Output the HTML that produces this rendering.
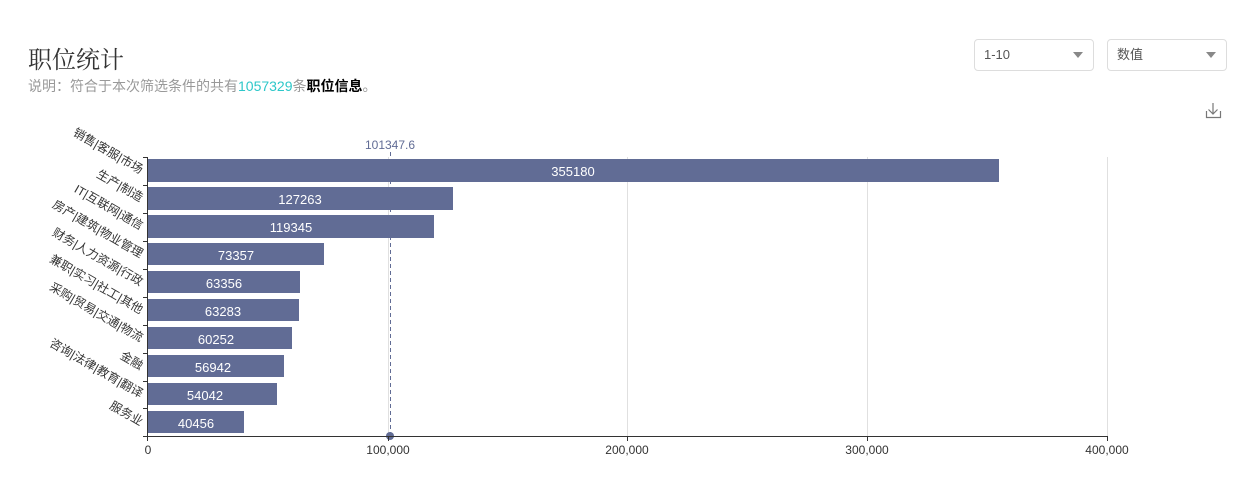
<!DOCTYPE html><html><head><meta charset="utf-8"><style>
body{margin:0;width:1253px;height:502px;background:#fff;font-family:"Liberation Sans","Noto Sans CJK SC",sans-serif;position:relative;overflow:hidden}
.t{position:absolute;left:28px;top:40px;font-size:24px;color:#333;font-family:"Liberation Serif","Noto Serif CJK SC",serif}
.s{position:absolute;left:28px;top:76px;font-size:14px;color:#999}
.sel{position:absolute;top:39px;width:120px;height:32px;border:1px solid #ddd;border-radius:4px;font-size:13px;color:#555;line-height:30px;box-sizing:border-box;padding-left:9px}
.sel:after{content:"";position:absolute;right:10px;top:12px;border-left:5px solid transparent;border-right:5px solid transparent;border-top:6px solid #888}
</style></head><body>
<div class="t">职位统计</div>
<div class="s">说明：符合于本次筛选条件的共有<span style="color:#2ec7c9">1057329</span>条<b style="color:#000">职位信息</b>。</div>
<div class="sel" style="left:974px">1-10</div>
<div class="sel" style="left:1107px">数值</div>
<svg width="1253" height="502" style="position:absolute;left:0;top:0" font-family="Liberation Sans,Noto Sans CJK SC,sans-serif">
<path d="M1213 103v11M1208.5 109.5l4.5 4.5 4.5-4.5M1206.5 111v6.5h14v-6.5" stroke="#777" fill="none" stroke-width="1.2"/>
<g stroke="#e0e0e0"><line x1="627.5" y1="157" x2="627.5" y2="436"/><line x1="867.5" y1="157" x2="867.5" y2="436"/><line x1="1107.5" y1="157" x2="1107.5" y2="436"/><line x1="388.5" y1="157" x2="388.5" y2="436"/></g>
<g fill="#616c95">
<rect x="148" y="159" width="851" height="23"/><rect x="148" y="187" width="305" height="23"/><rect x="148" y="215" width="286" height="23"/><rect x="148" y="243" width="176" height="22"/><rect x="148" y="271" width="152" height="22"/><rect x="148" y="299" width="151" height="22"/><rect x="148" y="327" width="144" height="22"/><rect x="148" y="355" width="136" height="22"/><rect x="148" y="383" width="129" height="22"/><rect x="148" y="411" width="96" height="22"/>
</g>
<g fill="#fff" font-size="13" text-anchor="middle">
<text x="573" y="176">355180</text><text x="300" y="204">127263</text><text x="291" y="232">119345</text><text x="236" y="260">73357</text><text x="224" y="288">63356</text><text x="223" y="316">63283</text><text x="216" y="344">60252</text><text x="213" y="372">56942</text><text x="205" y="400">54042</text><text x="196" y="428">40456</text>
</g>
<line x1="390.5" y1="152" x2="390.5" y2="436" stroke="#616c95" stroke-dasharray="4,3"/>
<circle cx="390" cy="436" r="4" fill="#616c95"/>
<text x="390" y="149" font-size="12" fill="#616c95" text-anchor="middle">101347.6</text>
<g stroke="#333"><line x1="147.5" y1="157" x2="147.5" y2="436"/><line x1="147" y1="436.5" x2="1108" y2="436.5"/>
<path d="M143 157.5h5M143 185.5h5M143 213.5h5M143 241.5h5M143 269.5h5M143 297.5h5M143 325.5h5M143 353.5h5M143 381.5h5M143 408.5h5M143 436.5h5"/>
<path d="M147.5 436v5M388.5 436v5M627.5 436v5M867.5 436v5M1107.5 436v5"/></g>
<g fill="#333" font-size="12" text-anchor="middle"><text x="148" y="454">0</text><text x="388" y="454">100,000</text><text x="627" y="454">200,000</text><text x="867" y="454">300,000</text><text x="1107" y="454">400,000</text></g>
<g fill="#333" font-size="12" text-anchor="end">
<text transform="translate(140,174) rotate(30)">销售|客服|市场</text>
<text transform="translate(140,202) rotate(30)">生产|制造</text>
<text transform="translate(140,230) rotate(30)">IT|互联网|通信</text>
<text transform="translate(140,258) rotate(30)">房产|建筑|物业管理</text>
<text transform="translate(140,286) rotate(30)">财务|人力资源|行政</text>
<text transform="translate(140,314) rotate(30)">兼职|实习|社工|其他</text>
<text transform="translate(140,342) rotate(30)">采购|贸易|交通|物流</text>
<text transform="translate(140,370) rotate(30)">金融</text>
<text transform="translate(140,398) rotate(30)">咨询|法律|教育|翻译</text>
<text transform="translate(140,426) rotate(30)">服务业</text>
</g>
</svg>
</body></html>
